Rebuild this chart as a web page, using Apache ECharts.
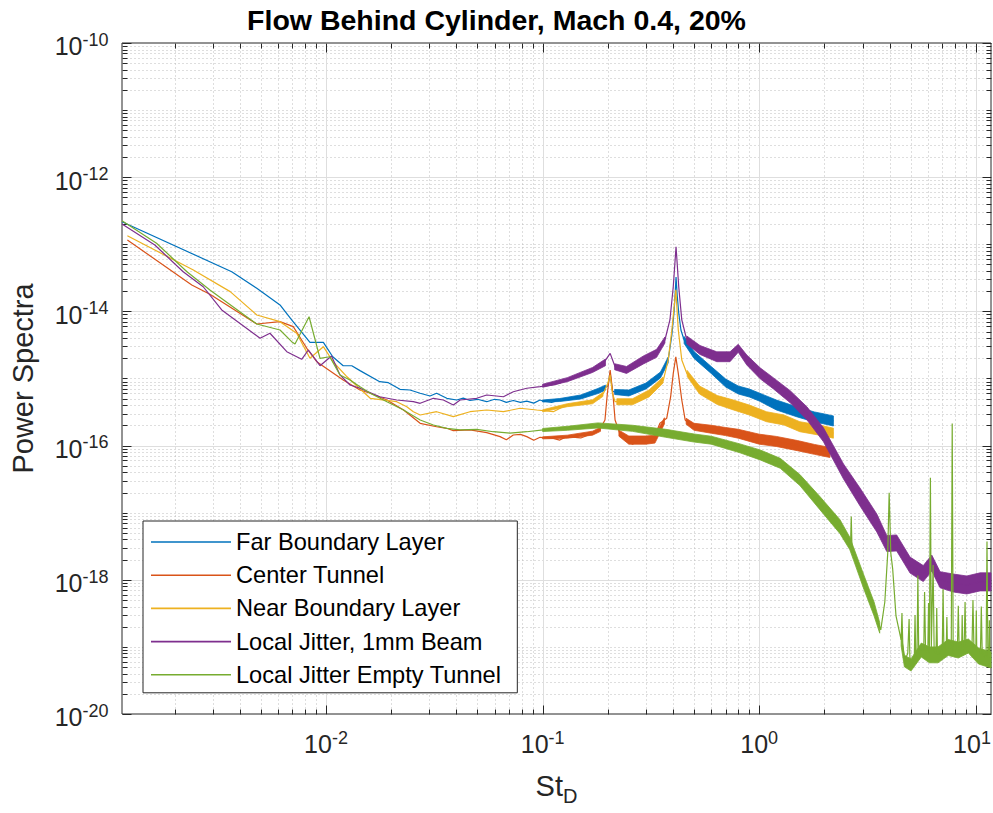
<!DOCTYPE html>
<html>
<head>
<meta charset="utf-8">
<script src="https://cdn.jsdelivr.net/npm/echarts@6/dist/echarts.min.js"></script>
<style>
html,body{margin:0;padding:0;background:#fff;}
#chart{width:993px;height:813px;}
</style>
</head>
<body>
<div id="chart"></div>
<script>
// ---------------- data ----------------
const titleText = 'Flow Behind Cylinder, Mach 0.4, 20%';
const seriesNames = ['Far Boundary Layer', 'Center Tunnel', 'Near Boundary Layer', 'Local Jitter, 1mm Beam', 'Local Jitter Empty Tunnel'];
const seriesColors = ['#0072BD', '#D95319', '#EDB120', '#7E2F8E', '#77AC30'];

const X_MIN = 0.001143, X_MAX = 11.75, Y_MIN = 1e-20, Y_MAX = 1e-10;
const xTickValues = [0.01, 0.1, 1, 10];
const xTickExponents = ['-2', '-1', '0', '1'];
const yTickValues = [1e-20, 1e-18, 1e-16, 1e-14, 1e-12, 1e-10];
const yTickExponents = ['-20', '-18', '-16', '-14', '-12', '-10'];

// [St_D, power] points of each trace (thin part + centre of the noisy part)
const farPoints = [[0.001143,2.17e-13],[0.00367,3.9e-14],[0.00479,2.21e-14],[0.00613,1.25e-14],[0.00694,7.45e-15],[0.00843,3.46e-15],[0.00972,3.46e-15],[0.01074,2.11e-15],[0.0120,1.55e-15],[0.01315,1.55e-15],[0.01435,1.31e-15],[0.0177,8.96e-16],[0.0194,8.66e-16],[0.02195,6.90e-16],[0.0244,6.74e-16],[0.0272,6.02e-16],[0.0302,5.48e-16],[0.0324,6.02e-16],[0.0361,5.07e-16],[0.0401,4.78e-16],[0.043,5.1e-16],[0.0462,4.70e-16],[0.050,4.9e-16],[0.0552,4.51e-16],[0.060,4.9e-16],[0.0636,4.78e-16],[0.068,4.4e-16],[0.0732,4.7e-16],[0.079,4.4e-16],[0.0845,4.6e-16],[0.091,4.3e-16],[0.0973,4.78e-16],[0.1,4.62e-16],[0.11,4.4e-16],[0.12,4.78e-16],[0.135,4.9e-16],[0.15,5.30e-16],[0.18,6.51e-16],[0.2,7.73e-16],[0.205,1.21e-15],[0.21,6.51e-16],[0.22,6.08e-16],[0.25,6.08e-16],[0.3,7.73e-16],[0.35,1.13e-15],[0.38,1.89e-15],[0.395,4.45e-15],[0.405,1.05e-14],[0.41,2.08e-14],[0.413,3.26e-14],[0.418,1.75e-14],[0.425,9.46e-15],[0.435,5.28e-15],[0.45,3.75e-15],[0.5,2.24e-15],[0.6,1.34e-15],[0.7,8.57e-16],[0.8,6.74e-16],[0.9,6.08e-16],[1.0,5.30e-16],[1.2,4.03e-16],[1.5,3.17e-16],[1.8,2.67e-16],[2.0,2.49e-16],[2.2,2.33e-16]];
const centerPoints = [[0.00121,1.16e-13],[0.0024,2.47e-14],[0.00291,1.80e-14],[0.00479,6.49e-15],[0.00613,7.03e-15],[0.00706,5.92e-15],[0.00815,2.82e-15],[0.00906,1.78e-15],[0.0120,9.49e-16],[0.01435,6.74e-16],[0.016,6.02e-16],[0.0191,4.78e-16],[0.0228,3.39e-16],[0.0272,2.15e-16],[0.0324,1.91e-16],[0.0361,1.81e-16],[0.0387,1.67e-16],[0.0462,1.71e-16],[0.0552,1.56e-16],[0.0636,1.36e-16],[0.068,1.22e-16],[0.0732,1.44e-16],[0.079,1.47e-16],[0.0845,1.36e-16],[0.091,1.2e-16],[0.0973,1.33e-16],[0.112,1.28e-16],[0.12,1.21e-16],[0.129,1.36e-16],[0.15,1.30e-16],[0.171,1.53e-16],[0.183,1.71e-16],[0.194,2.41e-16],[0.199,6.02e-16],[0.205,1.34e-15],[0.211,6.02e-16],[0.216,2.41e-16],[0.227,1.53e-16],[0.244,1.21e-16],[0.26,1.05e-16],[0.282,1.21e-16],[0.3,1.15e-16],[0.324,1.21e-16],[0.348,2.15e-16],[0.374,2.55e-16],[0.39,5.35e-16],[0.401,1.195e-15],[0.412,2.11e-15],[0.423,1.195e-15],[0.439,4.78e-16],[0.455,2.41e-16],[0.496,1.91e-16],[0.637,1.71e-16],[0.759,1.53e-16],[1.0,1.25e-16],[1.2,1.15e-16],[1.5,1.0e-16],[1.8,8.8e-17],[2.12,7.9e-17]];
const nearPoints = [[0.00121,1.34e-13],[0.00244,4.14e-14],[0.00361,1.97e-14],[0.00479,8.84e-15],[0.00613,7.03e-15],[0.00732,4.72e-15],[0.00843,2.0e-15],[0.00972,2.98e-15],[0.0108,1.76e-15],[0.0125,1.06e-15],[0.016,5.07e-16],[0.0212,4.51e-16],[0.0236,3.80e-16],[0.0253,3.20e-16],[0.0272,2.86e-16],[0.0324,3.20e-16],[0.0387,2.70e-16],[0.0462,3.20e-16],[0.0552,3.39e-16],[0.0659,3.20e-16],[0.0786,3.60e-16],[0.0939,3.39e-16],[0.112,3.20e-16],[0.129,4.03e-16],[0.171,4.51e-16],[0.191,6.02e-16],[0.2,8.5e-16],[0.205,1.13e-15],[0.21,6.0e-16],[0.216,4.51e-16],[0.262,4.51e-16],[0.313,6.02e-16],[0.361,9.49e-16],[0.38,1.89e-15],[0.395,5.28e-15],[0.412,2.1e-14],[0.423,5.28e-15],[0.439,1.89e-15],[0.463,1.195e-15],[0.533,6.74e-16],[0.637,4.78e-16],[0.759,4.03e-16],[0.907,3.39e-16],[1.08,2.70e-16],[1.29,2.41e-16],[1.54,1.91e-16],[1.9,1.7e-16],[2.2,1.53e-16]];
const jitterPoints = [[0.001143,2.01e-13],[0.00162,9.77e-14],[0.00219,3.90e-14],[0.00271,2.33e-14],[0.0033,1.05e-14],[0.00496,3.98e-15],[0.00551,4.72e-15],[0.00659,2.51e-15],[0.00772,1.93e-15],[0.00829,2.66e-15],[0.00938,1.55e-15],[0.0106,2.16e-15],[0.0116,1.13e-15],[0.0129,8.0e-16],[0.01435,7.16e-16],[0.0177,5.35e-16],[0.0212,4.78e-16],[0.0253,4.51e-16],[0.0272,4.27e-16],[0.0313,5.07e-16],[0.0348,4.78e-16],[0.0387,4.03e-16],[0.0416,4.78e-16],[0.0496,5.07e-16],[0.0552,5.68e-16],[0.0659,5.35e-16],[0.0732,6.35e-16],[0.0845,7.16e-16],[0.0973,7.56e-16],[0.112,8.0e-16],[0.12,8.5e-16],[0.129,9.49e-16],[0.171,1.34e-15],[0.191,1.69e-15],[0.205,2.37e-15],[0.216,1.50e-15],[0.244,1.34e-15],[0.292,1.89e-15],[0.336,2.37e-15],[0.367,3.75e-15],[0.387,7.45e-15],[0.401,2.33e-14],[0.413,9.22e-14],[0.425,2.33e-14],[0.439,7.45e-15],[0.463,3.75e-15],[0.533,2.66e-15],[0.637,2.11e-15],[0.733,2.11e-15],[0.80,2.82e-15],[0.876,1.89e-15],[1.01,1.195e-15],[1.16,8.5e-16],[1.39,5.35e-16],[1.66,3.03e-16],[1.98,1.45e-16],[2.45,4.11e-17],[2.92,1.71e-17],[3.49,7.03e-18],[3.88,3.47e-18],[4.31,3.54e-18],[4.97,1.66e-18],[5.72,1.24e-18],[6.26,1.78e-18],[6.84,1.0e-18],[7.87,8.96e-19],[9.08,8.37e-19],[10.46,9.3e-19],[11.75,9.3e-19]];
const emptyPoints = [[0.001143,2.25e-13],[0.00165,1.035e-13],[0.00228,3.90e-14],[0.00291,2.08e-14],[0.00479,6.49e-15],[0.00613,5.28e-15],[0.00694,3.54e-15],[0.00719,3.27e-15],[0.00835,8.33e-15],[0.00938,2.0e-15],[0.0104,2.11e-15],[0.0116,1.13e-15],[0.0129,9.49e-16],[0.01435,7.56e-16],[0.016,6.02e-16],[0.0191,4.51e-16],[0.0228,3.39e-16],[0.0272,2.41e-16],[0.0313,2.03e-16],[0.0361,1.81e-16],[0.0416,1.71e-16],[0.0496,1.75e-16],[0.0592,1.61e-16],[0.0707,1.53e-16],[0.0845,1.61e-16],[0.1007,1.71e-16],[0.12,1.81e-16],[0.129,1.81e-16],[0.183,2.03e-16],[0.262,1.81e-16],[0.374,1.53e-16],[0.533,1.28e-16],[0.815,9.12e-17],[1.01,7.26e-17],[1.25,5.45e-17],[1.54,3.07e-17],[1.91,1.38e-17],[2.36,6.19e-18],[2.64,3.30e-18],[2.66,8.8e-18],[2.68,3.0e-18],[2.72,2.51e-18],[3.04,9.29e-19],[3.39,3.67e-19],[3.64,1.79e-19],[3.80,4.67e-19],[3.92,2.5e-18],[3.98,1.99e-17],[4.05,2.5e-18],[4.13,1.47e-18],[4.28,2.89e-19],[4.52,1.27e-19],[4.56,3.2e-19],[4.60,1.1e-19],[4.68,6.16e-20],[4.85,8e-20],[4.92,2.6e-19],[4.96,7e-20],[5.02,5.38e-20],[5.2,7e-20],[5.24,3.0e-19],[5.28,7e-20],[5.35,7e-20],[5.40,1.16e-18],[5.45,8e-20],[5.60,9e-20],[5.75,9e-20],[5.80,6.58e-19],[5.86,9e-20],[6.0,8e-20],[6.05,4.5e-19],[6.1,8e-20],[6.17,3.33e-17],[6.23,1.0e-19],[6.35,1.66e-18],[6.42,9e-20],[6.55,8e-20],[6.6,3.8e-19],[6.65,8e-20],[6.69,7.6e-20],[7.0,9e-20],[7.06,7.3e-19],[7.12,9e-20],[7.3,9e-20],[7.35,2.8e-19],[7.4,9e-20],[7.46,1.27e-19],[7.70,9e-20],[7.78,2.13e-16],[7.86,8e-20],[8.01,9e-20],[8.22,9e-20],[8.30,4.11e-19],[8.38,9e-20],[8.6,9e-20],[8.65,3.0e-19],[8.7,9e-20],[8.83,1e-19],[8.92,4.67e-19],[9.0,1e-19],[9.24,1.03e-19],[9.6,1e-19],[9.7,5.0e-19],[9.8,1e-19],[10.0,9e-20],[10.05,3.5e-19],[10.1,8e-20],[10.29,7.32e-20],[10.5,8e-20],[10.6,4e-19],[10.7,8e-20],[11.0,7e-20],[11.15,7e-20],[11.26,3.71e-18],[11.37,7e-20],[11.5,7e-20],[11.55,2.5e-19],[11.6,7e-20],[11.75,6.38e-20]];

// [St_D, lower edge, upper edge] of the dense noisy band of each trace (null = gap at a peak)
const farBand = [[0.1,4.46e-16,4.78e-16],[0.12,4.54e-16,5.03e-16],[0.15,4.95e-16,5.68e-16],[0.18,5.97e-16,7.10e-16],[0.195,6.7e-16,7.96e-16],null,[0.215,5.78e-16,6.87e-16],[0.25,5.49e-16,6.74e-16],[0.3,6.98e-16,8.56e-16],[0.35,1.02e-15,1.25e-15],[0.38,1.71e-15,2.09e-15],null,[0.45,3.33e-15,4.23e-15],[0.5,1.99e-15,2.52e-15],[0.6,1.19e-15,1.51e-15],[0.7,7.47e-16,9.83e-16],[0.8,5.88e-16,7.73e-16],[0.9,5.30e-16,6.97e-16],[1.0,4.62e-16,6.08e-16],[1.2,3.40e-16,4.78e-16],[1.5,2.67e-16,3.76e-16],[1.8,2.25e-16,3.17e-16],[2.0,2.10e-16,2.96e-16],[2.2,1.96e-16,2.77e-16]];
const centerBand = [[0.1,1.26e-16,1.35e-16],[0.13,1.29e-16,1.43e-16],[0.17,1.43e-16,1.64e-16],[0.185,1.63e-16,1.87e-16],null,[0.225,1.38e-16,1.70e-16],[0.25,1.05e-16,1.39e-16],[0.3,1.05e-16,1.39e-16],[0.33,1.09e-16,1.43e-16],[0.365,2.1e-16,2.6e-16],null,[0.46,2.08e-16,2.55e-16],[0.5,1.69e-16,2.15e-16],[0.6,1.53e-16,2.01e-16],[0.7,1.41e-16,1.86e-16],[0.8,1.29e-16,1.75e-16],[1.0,1.05e-16,1.48e-16],[1.2,9.7e-17,1.37e-16],[1.5,8.4e-17,1.19e-16],[1.8,7.4e-17,1.04e-16],[2.12,6.65e-17,9.4e-17]];
const nearBand = [[0.1,3.19e-16,3.42e-16],[0.13,3.80e-16,4.21e-16],[0.17,4.20e-16,4.82e-16],[0.19,5.42e-16,6.21e-16],null,[0.22,4.06e-16,4.99e-16],[0.26,4.06e-16,4.99e-16],[0.31,5.32e-16,6.76e-16],[0.36,8.57e-16,1.05e-15],null,[0.465,1.07e-15,1.32e-15],[0.53,5.88e-16,7.73e-16],[0.64,4.10e-16,5.58e-16],[0.76,3.40e-16,4.78e-16],[0.9,2.86e-16,4.02e-16],[1.08,2.27e-16,3.20e-16],[1.3,2.03e-16,2.86e-16],[1.54,1.61e-16,2.27e-16],[1.9,1.43e-16,2.02e-16],[2.2,1.29e-16,1.82e-16]];
const jitterBand = [[0.1,7.41e-16,8.21e-16],[0.13,8.96e-16,1.03e-15],[0.17,1.23e-15,1.46e-15],[0.195,1.55e-15,1.95e-15],null,[0.215,1.35e-15,1.66e-15],[0.244,1.19e-15,1.51e-15],[0.292,1.65e-15,2.17e-15],[0.336,2.07e-15,2.72e-15],[0.367,3.38e-15,4.16e-15],null,[0.463,3.27e-15,4.30e-15],[0.533,2.28e-15,3.10e-15],[0.637,1.78e-15,2.50e-15],[0.733,1.78e-15,2.50e-15],[0.80,2.46e-15,3.23e-15],[0.876,1.59e-15,2.24e-15],[1.01,9.9e-16,1.44e-15],[1.16,7.04e-16,1.03e-15],[1.39,4.35e-16,6.58e-16],[1.66,2.42e-16,3.79e-16],[1.98,1.14e-16,1.84e-16],[2.45,3.18e-17,5.32e-17],[2.92,1.26e-17,2.33e-17],[3.49,5.16e-18,9.57e-18],[3.88,2.64e-18,4.57e-18],[4.31,2.69e-18,4.66e-18],[4.97,1.26e-18,2.18e-18],[5.72,9.4e-19,1.63e-18],[6.26,1.35e-18,2.34e-18],[6.84,7.6e-19,1.32e-18],[7.87,6.58e-19,1.22e-18],[9.08,6.15e-19,1.14e-18],[10.46,6.83e-19,1.27e-18],[11.75,6.83e-19,1.27e-18]];
const emptyBand = [[0.1,1.62e-16,1.80e-16],[0.13,1.69e-16,1.94e-16],[0.18,1.83e-16,2.18e-16],[0.26,1.63e-16,2.01e-16],[0.37,1.33e-16,1.75e-16],[0.5,1.13e-16,1.49e-16],[0.6,1.05e-16,1.38e-16],[0.815,7.81e-17,1.06e-16],[1.01,6.12e-17,8.62e-17],[1.25,4.59e-17,6.47e-17],[1.54,2.54e-17,3.71e-17],[1.91,1.10e-17,1.73e-17],[2.36,4.87e-18,7.87e-18],[2.62,2.8e-18,4.3e-18],[2.72,2.0e-18,3.1e-18],[3.04,7.30e-19,1.18e-18],[3.39,2.89e-19,4.67e-19],[3.6,1.6e-19,2.3e-19],null,[4.52,1.03e-19,1.56e-19],[4.68,5.04e-20,7.53e-20],[5.02,4.38e-20,6.61e-20],[5.6,7.07e-20,1.14e-19],[6.1,5.8e-20,1.0e-19],[6.69,5.78e-20,1.0e-19],[7.46,7.45e-20,1.29e-19],[8.3,6.83e-20,1.18e-19],[9.24,8.1e-20,1.31e-19],[10.29,5.56e-20,9.63e-20],[11.75,4.85e-20,8.40e-20]];

// ---------------- chart ----------------
const FONT = '"Liberation Sans", Arial, Helvetica, sans-serif';
const AX = '#262626';
const pointSets = [farPoints, centerPoints, nearPoints, jitterPoints, emptyPoints];
const bandSets = [farBand, centerBand, nearBand, jitterBand, emptyBand];

// minor tick positions (axis decoration only)
const xMinor = [];
for (let d = -3; d <= 1; d++) for (let k = 2; k <= 9; k++) { const v = k * Math.pow(10, d); if (v > X_MIN && v < X_MAX) xMinor.push(v); }
const yMinor = [];
for (let d = -20; d < -10; d++) for (let k = 1; k <= 9; k++) { if (k === 1 && d % 2 === 0) continue; yMinor.push(k * Math.pow(10, d)); }

const supRich = {
  b: { fontSize: 25, lineHeight: 28, padding: [7, 0, 0, 0], verticalAlign: 'bottom', fontFamily: FONT, fill: AX },
  s: { fontSize: 18, lineHeight: 20, verticalAlign: 'top', fontFamily: FONT, fill: AX }
};

function renderDecor(params, api) {
  const ch = [];
  const bl = api.coord([X_MIN, Y_MIN]);
  const tr = api.coord([X_MAX, Y_MAX]);
  const left = Math.round(bl[0]) + 0.5, bottom = Math.round(bl[1]) + 0.5;
  const right = Math.round(tr[0]) + 0.5, top = Math.round(tr[1]) + 0.5;
  const sx = v => Math.round(api.coord([v, Y_MIN])[0]) + 0.5;
  const sy = v => Math.round(api.coord([X_MIN, v])[1]) + 0.5;
  const ln = (x1, y1, x2, y2, st) => ch.push({ type: 'line', shape: { x1, y1, x2, y2 }, style: st, silent: true });
  const minorGrid = { stroke: '#bcbcbc', lineWidth: 1, lineDash: [1, 3] };
  const majorGrid = { stroke: '#dedede', lineWidth: 1 };
  const tick = { stroke: AX, lineWidth: 1 };
  xMinor.forEach(v => { const x = sx(v); ln(x, top, x, bottom, minorGrid); });
  yMinor.forEach(v => { const y = sy(v); ln(left, y, right, y, minorGrid); });
  xTickValues.forEach(v => { if (v > X_MIN && v < X_MAX) { const x = sx(v); ln(x, top, x, bottom, majorGrid); } });
  yTickValues.forEach(v => { if (v > Y_MIN && v < Y_MAX) { const y = sy(v); ln(left, y, right, y, majorGrid); } });
  const MJ = 9, MN = 5;
  xMinor.forEach(v => { const x = sx(v); ln(x, bottom, x, bottom - MN, tick); ln(x, top, x, top + MN, tick); });
  yMinor.forEach(v => { const y = sy(v); ln(left, y, left + MN, y, tick); ln(right, y, right - MN, y, tick); });
  xTickValues.forEach(v => { const x = sx(v); ln(x, bottom, x, bottom - MJ, tick); ln(x, top, x, top + MJ, tick); });
  yTickValues.forEach(v => { const y = sy(v); ln(left, y, left + MJ, y, tick); ln(right, y, right - MJ, y, tick); });
  const W = api.getWidth();
  xTickValues.forEach((v, i) => {
    const cx = Math.min(api.coord([v, Y_MIN])[0], W - 21);
    ch.push({ type: 'text', x: cx, y: bottom + 14, silent: true,
      style: { text: '{b|10}{s|' + xTickExponents[i] + '}', rich: supRich, align: 'center', verticalAlign: 'top', fill: AX, fontFamily: FONT, fontSize: 25 } });
  });
  yTickValues.forEach((v, i) => {
    ch.push({ type: 'text', x: left - 14, y: api.coord([X_MIN, v])[1] + 1.8, silent: true,
      style: { text: '{b|10}{s|' + yTickExponents[i] + '}', rich: supRich, align: 'right', verticalAlign: 'middle', fill: AX, fontFamily: FONT, fontSize: 25 } });
  });
  return { type: 'group', children: ch };
}

function bandRenderer(band, color) {
  return function (params, api) {
    const children = [];
    let seg = [];
    const flush = () => {
      if (seg.length > 1) {
        const up = seg.map(p => api.coord([p[0], p[2]]));
        const dn = seg.map(p => api.coord([p[0], p[1]])).reverse();
        children.push({ type: 'polygon', shape: { points: up.concat(dn) }, style: { fill: color, stroke: color, lineWidth: 0.8 }, silent: true });
      }
      seg = [];
    };
    band.forEach(p => { if (p == null) flush(); else seg.push(p); });
    flush();
    return { type: 'group', children };
  };
}

const series = [{
  type: 'custom', name: '_decor', coordinateSystem: 'cartesian2d', z: 1, silent: true,
  data: [[1, 1e-15]], renderItem: renderDecor
}];
seriesNames.forEach((name, i) => {
  series.push({
    type: 'line', name, z: 3 + i, data: pointSets[i],
    showSymbol: false, symbol: 'none', sampling: null, smooth: false,
    lineStyle: { width: 1.2, color: seriesColors[i] }, itemStyle: { color: seriesColors[i] }
  });
  series.push({
    type: 'custom', name, coordinateSystem: 'cartesian2d', z: 3 + i, silent: true,
    data: [[1, 1e-15]], renderItem: bandRenderer(bandSets[i], seriesColors[i]),
    itemStyle: { color: seriesColors[i] }
  });
});

const chart = echarts.init(document.getElementById('chart'), null, { renderer: 'svg', width: 993, height: 813 });
chart.setOption({
  animation: false,
  backgroundColor: '#ffffff',
  title: {
    text: titleText, left: 'center', top: 3, padding: [0, 0, 0, 119],
    textStyle: { fontSize: 28.5, fontWeight: 'bold', color: '#000', fontFamily: FONT, lineHeight: 34 }
  },
  grid: { left: 122, right: 2, top: 43, bottom: 99, show: true, borderColor: AX, borderWidth: 1, backgroundColor: 'transparent', containLabel: false },
  legend: {
    data: seriesNames.map(n => ({ name: n, icon: 'rect' })), orient: 'vertical', left: 143, top: 521,
    padding: [9, 16, 6, 8], itemGap: 9.2, itemWidth: 80, itemHeight: 1.6,
    backgroundColor: '#fff', borderColor: AX, borderWidth: 1, selectedMode: false, z: 10,
    textStyle: { fontSize: 23.6, color: '#000', fontFamily: FONT, lineHeight: 24 }
  },
  xAxis: {
    type: 'log', logBase: 10, min: X_MIN, max: X_MAX,
    axisLine: { show: false }, axisTick: { show: false }, axisLabel: { show: false }, splitLine: { show: false },
    name: '{m|St}{d|D}', nameLocation: 'middle', nameGap: 57,
    nameTextStyle: { color: AX, fontFamily: FONT, rich: {
      m: { fontSize: 29, lineHeight: 32, verticalAlign: 'top', fontFamily: FONT, color: AX },
      d: { fontSize: 20, lineHeight: 22, padding: [15, 0, 0, 0], verticalAlign: 'top', fontFamily: FONT, color: AX } } }
  },
  yAxis: {
    type: 'log', logBase: 10, min: Y_MIN, max: Y_MAX,
    axisLine: { show: false }, axisTick: { show: false }, axisLabel: { show: false }, splitLine: { show: false },
    name: 'Power Spectra', nameLocation: 'middle', nameGap: 85,
    nameTextStyle: { fontSize: 29, color: AX, fontFamily: FONT }
  },
  tooltip: { show: false },
  series
});
</script>
</body>
</html>
